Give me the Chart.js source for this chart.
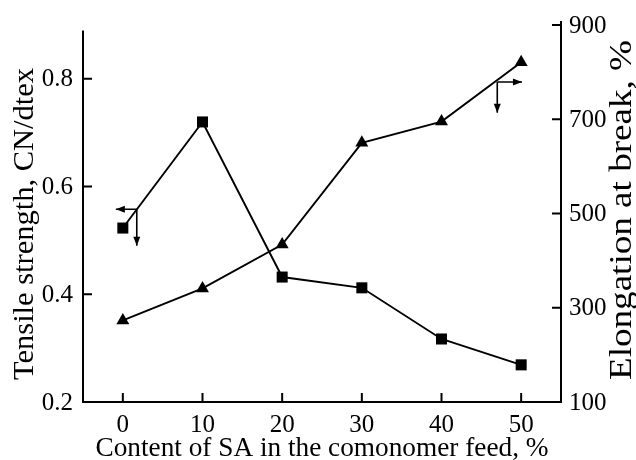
<!DOCTYPE html>
<html>
<head>
<meta charset="utf-8">
<script src="https://cdn.jsdelivr.net/npm/chart.js@4/dist/chart.umd.min.js"></script>
<style>
  html, body { margin: 0; padding: 0; background: #fff; }
  #wrap { width: 636px; height: 460px; position: relative; }
</style>
</head>
<body>
<div id="wrap"><canvas id="chart" width="636" height="460"></canvas></div>
<script>
// data
const saContent = [0, 10, 20, 30, 40, 50];
const tensileStrength = [0.523, 0.72, 0.432, 0.412, 0.317, 0.269];
const elongation = [273, 341, 434, 650, 695, 821];

const xTicks = [0, 10, 20, 30, 40, 50];
const leftTicks = [0.2, 0.4, 0.6, 0.8];
const rightTicks = [100, 300, 500, 700, 900];

// arrows telling which axis belongs to which curve: [x, y, xEnd, yEnd]
const leftArrow = [1.75, 0.558, -0.875, 0.49];
const rightArrow = [47, 779, 50.1, 714];

const FONT = '"Liberation Serif", "Times New Roman", Times';

function arrowHead(ctx, x, y, dx, dy) {
  const len = 9, w = 3.5;
  ctx.beginPath();
  ctx.moveTo(x, y);
  ctx.lineTo(x - dx * len - dy * w, y - dy * len + dx * w);
  ctx.lineTo(x - dx * len + dy * w, y - dy * len - dx * w);
  ctx.closePath();
  ctx.fill();
}

// text, optionally squeezed/stretched to a given length
function label(ctx, text, x, y, opts) {
  ctx.save();
  ctx.font = opts.size + 'px ' + FONT;
  ctx.textAlign = opts.align || 'center';
  ctx.textBaseline = opts.baseline || 'middle';
  ctx.translate(x, y);
  if (opts.rotate) ctx.rotate(opts.rotate);
  let sx = 1;
  if (opts.width) sx = opts.width / ctx.measureText(text).width;
  ctx.scale(sx, 1);
  ctx.fillText(text, 0, 0);
  ctx.restore();
}

const decor = {
  id: 'decor',
  afterDraw(chart) {
    const ctx = chart.ctx;
    const area = chart.chartArea;
    const x = chart.scales.x, yl = chart.scales.y, yr = chart.scales.y2;
    ctx.save();
    ctx.strokeStyle = '#000';
    ctx.fillStyle = '#000';
    ctx.lineWidth = 2;

    // axis lines
    ctx.beginPath();
    ctx.moveTo(area.left, yl.getPixelForValue(0.89));
    ctx.lineTo(area.left, area.bottom + 1);
    ctx.moveTo(area.right, area.top - 4);
    ctx.lineTo(area.right, area.bottom + 1);
    ctx.stroke();

    // inward tick marks
    ctx.beginPath();
    leftTicks.forEach(v => {
      const p = yl.getPixelForValue(v);
      ctx.moveTo(area.left, p); ctx.lineTo(area.left + 9, p);
    });
    rightTicks.forEach(v => {
      const p = yr.getPixelForValue(v);
      ctx.moveTo(area.right, p); ctx.lineTo(area.right - 9, p);
    });
    xTicks.forEach(v => {
      const p = x.getPixelForValue(v);
      ctx.moveTo(p, area.bottom); ctx.lineTo(p, area.bottom - 9);
    });
    ctx.stroke();

    // tick labels
    leftTicks.forEach(v => label(ctx, v.toFixed(1), area.left - 10, yl.getPixelForValue(v) + 1,
      { size: 25, align: 'right' }));
    rightTicks.forEach(v => label(ctx, String(v), area.right + 8, yr.getPixelForValue(v) + 1,
      { size: 25, align: 'left' }));
    xTicks.forEach(v => label(ctx, String(v), x.getPixelForValue(v), area.bottom + 23,
      { size: 25 }));

    // arrows
    ctx.lineWidth = 1.6;
    const la = leftArrow.map((v, i) => i % 2 === 0 ? x.getPixelForValue(v) : yl.getPixelForValue(v));
    const ra = rightArrow.map((v, i) => i % 2 === 0 ? x.getPixelForValue(v) : yr.getPixelForValue(v));
    [la, ra].forEach(a => {
      ctx.beginPath();
      ctx.moveTo(a[0], a[1]); ctx.lineTo(a[2], a[1]);
      ctx.moveTo(a[0], a[1]); ctx.lineTo(a[0], a[3]);
      ctx.stroke();
      arrowHead(ctx, a[2], a[1], Math.sign(a[2] - a[0]), 0);
      arrowHead(ctx, a[0], a[3], 0, 1);
    });

    // axis titles
    label(ctx, 'Content of SA in the comonomer feed, %', 322, 456,
      { size: 27, baseline: 'alphabetic', width: 453 });
    label(ctx, 'Tensile strength, CN/dtex', 33, 224,
      { size: 30, baseline: 'alphabetic', rotate: -Math.PI / 2, width: 312 });
    label(ctx, 'Elongation at break, %', 631, 210,
      { size: 31, baseline: 'alphabetic', rotate: -Math.PI / 2, width: 340 });
    ctx.restore();
  }
};

new Chart(document.getElementById('chart'), {
  type: 'line',
  data: {
    datasets: [
      {
        label: 'Tensile strength',
        data: saContent.map((v, i) => ({ x: v, y: tensileStrength[i] })),
        yAxisID: 'y',
        borderColor: '#000',
        backgroundColor: '#000',
        borderWidth: 1.9,
        pointStyle: 'rect',
        pointRadius: 7.8,
        pointBorderWidth: 0,
        tension: 0
      },
      {
        label: 'Elongation at break',
        data: saContent.map((v, i) => ({ x: v, y: elongation[i] })),
        yAxisID: 'y2',
        borderColor: '#000',
        backgroundColor: '#000',
        borderWidth: 1.9,
        pointStyle: 'triangle',
        pointRadius: 7.5,
        pointBorderWidth: 0,
        tension: 0
      }
    ]
  },
  options: {
    responsive: false,
    animation: false,
    layout: { padding: { top: 25, left: 0, right: 0, bottom: 0 } },
    plugins: { legend: { display: false }, tooltip: { enabled: false } },
    scales: {
      x: {
        type: 'linear',
        min: -5, max: 55,
        afterBuildTicks: s => { s.ticks = xTicks.map(v => ({ value: v })); },
        afterFit: s => { s.height = 58; },
        grid: { display: false, drawTicks: false },
        border: { display: true, color: '#000', width: 2 },
        ticks: { display: false }
      },
      y: {
        position: 'left',
        min: 0.2, max: 0.9,
        afterBuildTicks: s => { s.ticks = leftTicks.map(v => ({ value: v })); },
        afterFit: s => { s.width = 83; },
        grid: { display: false, drawTicks: false },
        border: { display: false },
        ticks: { display: false }
      },
      y2: {
        position: 'right',
        min: 100, max: 900,
        afterBuildTicks: s => { s.ticks = rightTicks.map(v => ({ value: v })); },
        afterFit: s => { s.width = 75; },
        grid: { display: false, drawTicks: false },
        border: { display: false },
        ticks: { display: false }
      }
    }
  },
  plugins: [decor]
});
</script>
</body>
</html>
